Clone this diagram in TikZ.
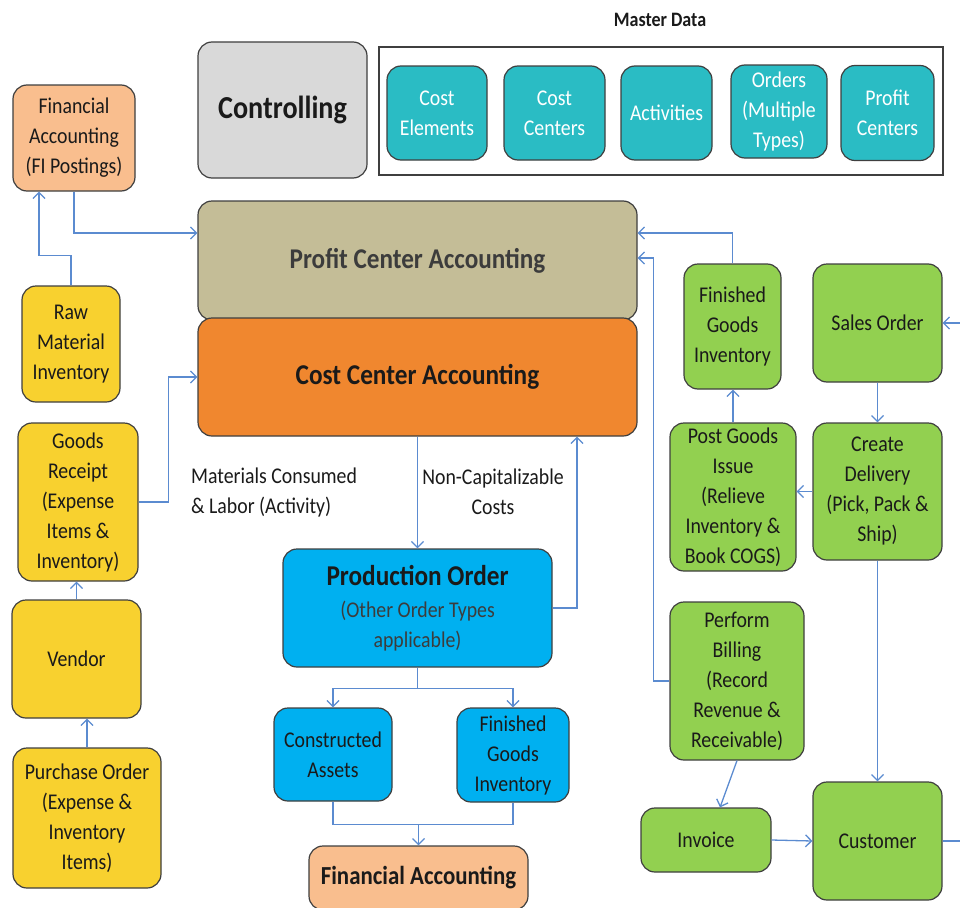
\documentclass[tikz,border=0pt]{standalone}
\usepackage{fontspec}
\setmainfont{Carlito}[FakeStretch=0.88]
\usetikzlibrary{arrows.meta}
\definecolor{peach}{HTML}{F9BE8E}
\definecolor{ctrlgray}{HTML}{D9D9D9}
\definecolor{teal}{HTML}{2ABCC4}
\definecolor{khaki}{HTML}{C4BD97}
\definecolor{orng}{HTML}{F0872F}
\definecolor{yell}{HTML}{F8D12F}
\definecolor{blu}{HTML}{00B0F0}
\definecolor{grn}{HTML}{92D050}
\definecolor{edge}{HTML}{3F3F3F}
\definecolor{ink}{HTML}{1A1A1A}
\definecolor{conncol}{HTML}{5B8BD0}
\tikzset{
  box/.style={draw=edge, line width=1.2pt, rounded corners=14pt, align=center,
    inner sep=0pt, text=ink, font=\fontsize{22.5}{30}\selectfont},
  mdbox/.style={box, fill=teal, text=white},
  conn/.style={draw=conncol, line width=1.3pt, -{Straight Barb[length=6pt,width=12pt]}},
  plainline/.style={draw=conncol, line width=1.3pt},
  lbl/.style={text=ink, font=\fontsize{22.5}{30}\selectfont, inner sep=0pt}
}
\begin{document}
\begin{tikzpicture}[x=1pt,y=-1pt]
\useasboundingbox (0,0) rectangle (960,907);
% top
\node[box, fill=peach, minimum width=122pt, minimum height=106pt] (fi1) at (74,138) {Financial\\Accounting\\(FI Postings)};
\node[box, fill=ctrlgray, minimum width=169pt, minimum height=136pt, font=\fontsize{32}{36}\bfseries\selectfont] (ctrl) at (282.5,110) {Controlling};
\node[lbl, font=\fontsize{20.5}{24}\bfseries\selectfont] (mdl) at (660,20) {Master Data};
\node[draw=edge, line width=1.2pt, minimum width=564pt, minimum height=128pt, inner sep=0pt] (md) at (661,111) {};
\node[mdbox, minimum width=100pt, minimum height=94pt] (ce) at (437,113) {Cost\\Elements};
\node[mdbox, minimum width=101pt, minimum height=94pt] (cc) at (554.5,113) {Cost\\Centers};
\node[mdbox, minimum width=91pt, minimum height=94pt] (act) at (666.5,113) {Activities};
\node[mdbox, minimum width=96pt, minimum height=93pt] (ord) at (779,111.5) {Orders\\(Multiple\\Types)};
\node[mdbox, minimum width=93pt, minimum height=95pt] (pc) at (887.5,113) {Profit\\Centers};
% central
\node[box, fill=khaki, minimum width=439pt, minimum height=119pt, font=\fontsize{28.6}{32}\bfseries\selectfont, text=ink!85] (pca) at (417.5,260.5) {Profit Center Accounting};
\node[box, fill=orng, minimum width=439pt, minimum height=118pt, font=\fontsize{28.7}{32}\bfseries\selectfont] (cca) at (417.5,377) {Cost Center Accounting};
% left column
\node[box, fill=yell, minimum width=98pt, minimum height=116pt] (raw) at (71,344) {Raw\\Material\\Inventory};
\node[box, fill=yell, minimum width=120pt, minimum height=158pt] (gr) at (78,502) {Goods\\Receipt\\(Expense\\Items \&\\Inventory)};
\node[box, fill=yell, minimum width=129pt, minimum height=118pt] (vendor) at (76.5,659) {Vendor};
\node[box, fill=yell, minimum width=148pt, minimum height=140pt] (po) at (87,818) {Purchase Order\\(Expense \&\\Inventory\\Items)};
% labels
\node[lbl, align=left, anchor=west] (matl) at (191,492) {Materials Consumed\\\& Labor (Activity)};
\node[lbl, align=center] (ncap) at (493,492) {Non-Capitalizable\\Costs};
% production
\node[box, fill=blu, minimum width=269pt, minimum height=118pt] (prod) at (417.5,608) {{\fontsize{28.7}{32}\bfseries\selectfont Production Order}\\[2pt]\textcolor{ink!85}{(Other Order Types}\\\textcolor{ink!85}{applicable)}};
\node[box, fill=blu, minimum width=118pt, minimum height=93pt] (ca) at (333,754.5) {Constructed\\Assets};
\node[box, fill=blu, minimum width=112pt, minimum height=94pt] (fgb) at (513,755) {Finished\\Goods\\Inventory};
\node[box, fill=peach, minimum width=219pt, minimum height=64pt, font=\fontsize{26}{30}\bfseries\selectfont] (fa) at (418.5,878) {Financial Accounting};
% right side
\node[box, fill=grn, minimum width=97pt, minimum height=125pt] (fgg) at (732.5,326.5) {Finished\\Goods\\Inventory};
\node[box, fill=grn, minimum width=129pt, minimum height=118pt] (so) at (877.5,323) {Sales Order};
\node[box, fill=grn, minimum width=126pt, minimum height=148pt] (pgi) at (733,497) {Post Goods\\Issue\\(Relieve\\Inventory \&\\Book COGS)};
\node[box, fill=grn, minimum width=129pt, minimum height=137pt] (cd) at (877.5,491.5) {Create\\Delivery\\(Pick, Pack \&\\Ship)};
\node[box, fill=grn, minimum width=134pt, minimum height=158pt] (pb) at (737,681) {Perform\\Billing\\(Record\\Revenue \&\\Receivable)};
\node[box, fill=grn, minimum width=130pt, minimum height=64pt] (inv) at (706,840) {Invoice};
\node[box, fill=grn, minimum width=129pt, minimum height=118pt] (cust) at (877.5,841) {Customer};
\coordinate (e1) at (960,841);
\coordinate (e2) at (960,323);
% connectors left
\draw[conn] (raw.north) -- ++(0,-30) -| ([xshift=-35pt]fi1.south);
\draw[conn] (fi1.south) |- ([yshift=27.5pt]pca.west);
\draw[conn] (gr.east) -- ++(30,0) |- (cca.west);
\draw[conn] (vendor.north) -- (vendor.north |- gr.south);
\draw[conn] (po.north) -- (po.north |- vendor.south);
% central
\draw[conn] (cca.south) -- (prod.north);
\draw[conn] (prod.east) -| ([xshift=159.5pt]cca.south);
\draw[conn] (prod.south) -- ++(0,21) -| (ca.north);
\draw[conn] (prod.south) -- ++(0,21) -| (fgb.north);
\draw[plainline] (ca.south) -- ++(0,23) -| (fgb.south);
\coordinate (join) at (418.5,824);
\draw[conn] (join) -- (fa.north);
% right
\draw[conn] (fgg.north) |- ([yshift=27.5pt]pca.east);
\draw[conn] (pb.west) -- ++(-16,0) |- ([yshift=2.5pt]pca.east);
\draw[conn] (pgi.north) -- (pgi.north |- fgg.south);
\draw[conn] (so.south) -- (cd.north);
\draw[conn] (cd.west) -- (pgi.east |- cd.west);
\draw[conn] (cd.south) -- (cust.north);
\draw[conn] (pb.south) -- ([xshift=14pt]inv.north);
\draw[conn] (inv.east) -- (cust.west);
\draw[plainline] (cust.east) -- (e1);
\draw[conn] (e2) -- (so.east);
\end{tikzpicture}
\end{document}
